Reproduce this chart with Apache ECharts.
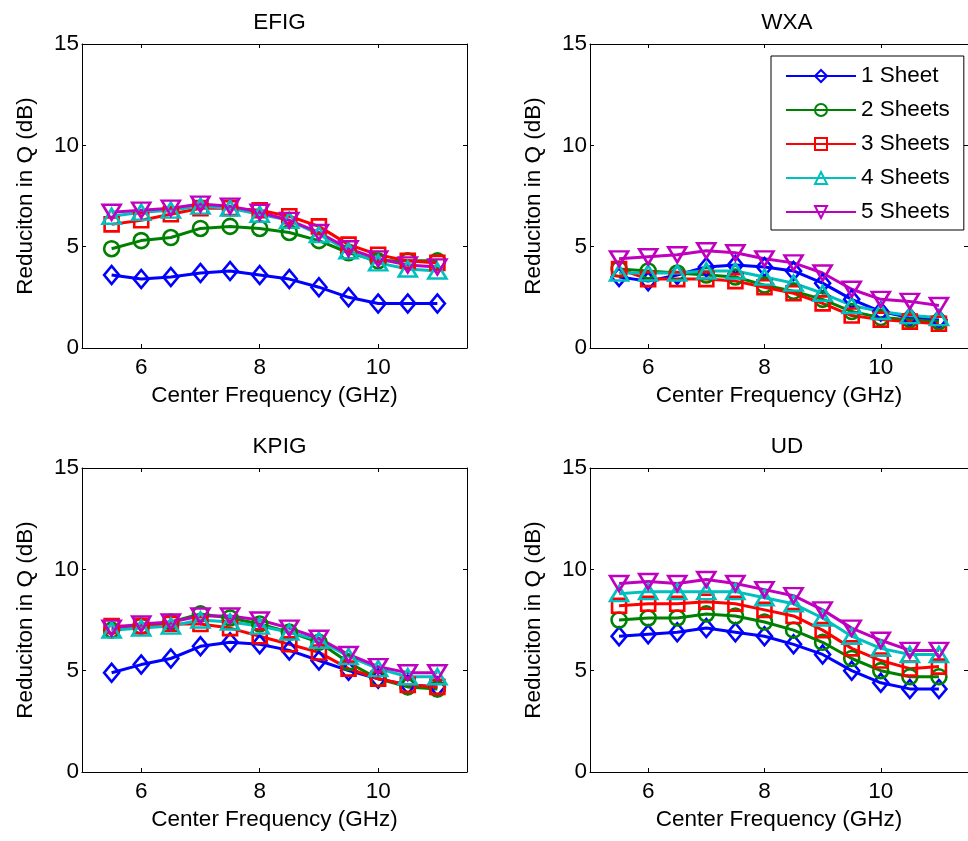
<!DOCTYPE html>
<html>
<head>
<meta charset="utf-8">
<title>Reduction in Q vs Center Frequency</title>
<script src="https://cdn.jsdelivr.net/npm/echarts@6/dist/echarts.min.js"></script>
<style>
  html, body { margin: 0; padding: 0; background: #fff; }
  #chart { width: 968px; height: 841px; }
</style>
</head>
<body>
<div id="chart"></div>
<script>
// Center frequencies (GHz) shared by every panel
const freq = [5.5, 6, 6.5, 7, 7.5, 8, 8.5, 9, 9.5, 10, 10.5, 11];
const xTicks = [6, 8, 10];
const sheetNames = ['1 Sheet', '2 Sheets', '3 Sheets', '4 Sheets', '5 Sheets'];
const panelTitles = ['EFIG', 'WXA', 'KPIG', 'UD'];

// Reduction in Q (dB), one row per sheet count
const efig = [
  [3.6, 3.4, 3.5, 3.7, 3.8, 3.6, 3.4, 3.0, 2.5, 2.2, 2.2, 2.2],
  [4.9, 5.3, 5.45, 5.9, 6.0, 5.9, 5.7, 5.3, 4.7, 4.3, 4.3, 4.3],
  [6.1, 6.3, 6.6, 6.9, 6.9, 6.8, 6.5, 6.0, 5.1, 4.6, 4.3, 4.2],
  [6.5, 6.7, 6.8, 7.0, 6.9, 6.6, 6.3, 5.6, 4.8, 4.2, 3.9, 3.8],
  [6.7, 6.8, 6.9, 7.1, 7.0, 6.7, 6.3, 5.7, 4.9, 4.4, 4.1, 4.0]
];
const wxa = [
  [3.5, 3.3, 3.6, 4.0, 4.1, 4.0, 3.8, 3.2, 2.4, 1.8, 1.5, 1.4],
  [3.9, 3.8, 3.7, 3.6, 3.5, 3.1, 2.8, 2.4, 1.8, 1.5, 1.4, 1.3],
  [3.9, 3.4, 3.4, 3.4, 3.3, 3.0, 2.7, 2.2, 1.6, 1.4, 1.3, 1.2],
  [3.7, 3.7, 3.7, 3.8, 3.8, 3.5, 3.2, 2.7, 2.1, 1.8, 1.6, 1.5],
  [4.4, 4.5, 4.6, 4.8, 4.7, 4.4, 4.2, 3.7, 2.9, 2.4, 2.3, 2.1]
];
const kpig = [
  [4.9, 5.3, 5.6, 6.2, 6.4, 6.3, 6.0, 5.5, 5.0, 4.6, 4.3, 4.2],
  [7.0, 7.2, 7.4, 7.8, 7.6, 7.3, 6.9, 6.4, 5.4, 4.6, 4.2, 4.1],
  [7.2, 7.2, 7.3, 7.3, 7.1, 6.7, 6.3, 5.9, 5.1, 4.6, 4.3, 4.2],
  [7.0, 7.1, 7.2, 7.5, 7.4, 7.2, 6.9, 6.5, 5.7, 5.1, 4.7, 4.7],
  [7.1, 7.3, 7.4, 7.7, 7.7, 7.5, 7.1, 6.6, 5.8, 5.2, 4.9, 4.9]
];
const ud = [
  [6.7, 6.8, 6.9, 7.1, 6.9, 6.7, 6.3, 5.8, 5.0, 4.4, 4.1, 4.1],
  [7.5, 7.6, 7.6, 7.8, 7.7, 7.4, 7.0, 6.4, 5.6, 5.0, 4.7, 4.7],
  [8.2, 8.3, 8.3, 8.4, 8.3, 8.0, 7.7, 7.0, 6.1, 5.5, 5.1, 5.2],
  [8.8, 8.9, 8.9, 8.9, 8.9, 8.6, 8.3, 7.6, 6.7, 6.1, 5.8, 5.8],
  [9.3, 9.4, 9.3, 9.5, 9.3, 9.0, 8.7, 8.0, 7.1, 6.5, 6.0, 6.0]
];
const panelData = [efig, wxa, kpig, ud];

// Line colours and marker shapes per sheet count
const colors = ['#0000ff', '#008000', '#ff0000', '#00bfbf', '#bf00bf'];
const markers = [
  { symbol: 'diamond', size: [15, 18], rotate: 0 },
  { symbol: 'circle', size: 15, rotate: 0 },
  { symbol: 'rect', size: 14, rotate: 0 },
  { symbol: 'triangle', size: [18, 15], rotate: 0 },
  { symbol: 'triangle', size: [18, 15], rotate: 180 }
];

const FONT = '"Liberation Sans", Arial, Helvetica, sans-serif';
const FS = 22.5;

// Panel boxes in pixels
const gridBoxes = [
  { left: 82, top: 44, width: 385, height: 304 },
  { left: 590, top: 44, width: 384, height: 304 },
  { left: 82, top: 468, width: 385, height: 304 },
  { left: 590, top: 468, width: 384, height: 304 }
];

const axisLine = { show: true, onZero: false, lineStyle: { color: '#000', width: 1 } };
const tickStyle = { show: true, inside: true, length: 4, lineStyle: { color: '#000', width: 1 } };
const textBase = { color: '#000', fontFamily: FONT, fontSize: FS };

const grids = [], xAxes = [], yAxes = [], titles = [], series = [];

gridBoxes.forEach((g, p) => {
  grids.push({ left: g.left, top: g.top, width: g.width, height: g.height, containLabel: false });
  titles.push({
    text: panelTitles[p],
    left: g.left + g.width / 2,
    top: g.top - 38,
    textAlign: 'center',
    textStyle: Object.assign({ fontWeight: 'normal' }, textBase)
  });
  // bottom axis with labels, top axis for the box ticks
  xAxes.push({
    type: 'value', gridIndex: p, position: 'bottom', min: 5, max: 11.5,
    axisLine, axisTick: Object.assign({ customValues: xTicks }, tickStyle),
    axisLabel: Object.assign({ customValues: xTicks, margin: 8 }, textBase),
    splitLine: { show: false },
    name: 'Center Frequency (GHz)', nameLocation: 'middle', nameGap: 36,
    nameTextStyle: textBase
  });
  xAxes.push({
    type: 'value', gridIndex: p, position: 'top', min: 5, max: 11.5,
    axisLine, axisTick: Object.assign({ customValues: xTicks }, tickStyle),
    axisLabel: { show: false }, splitLine: { show: false }
  });
  yAxes.push({
    type: 'value', gridIndex: p, position: 'left', min: 0, max: 15, interval: 5,
    axisLine, axisTick: tickStyle,
    axisLabel: Object.assign({ margin: 3 }, textBase),
    splitLine: { show: false },
    name: 'Reduciton in Q (dB)', nameLocation: 'middle', nameGap: 45,
    nameTextStyle: textBase
  });
  yAxes.push({
    type: 'value', gridIndex: p, position: 'right', min: 0, max: 15, interval: 5,
    axisLine, axisTick: tickStyle, axisLabel: { show: false }, splitLine: { show: false }
  });

  panelData[p].forEach((vals, s) => {
    series.push({
      type: 'line',
      name: sheetNames[s],
      xAxisIndex: p * 2,
      yAxisIndex: p * 2,
      data: freq.map((f, i) => [f, vals[i]]),
      symbol: markers[s].symbol,
      symbolSize: markers[s].size,
      symbolRotate: markers[s].rotate,
      showAllSymbol: true,
      color: colors[s],
      lineStyle: { color: colors[s], width: 3 },
      itemStyle: { color: 'rgba(255,255,255,0)', borderColor: colors[s], borderWidth: 2.6 },
      emphasis: { disabled: true },
      animation: false
    });
  });
});

const chart = echarts.init(document.getElementById('chart'), null, { renderer: 'canvas' });
chart.setOption({
  backgroundColor: '#fff',
  animation: false,
  title: titles,
  grid: grids,
  xAxis: xAxes,
  yAxis: yAxes,
  legend: {
    data: sheetNames,
    orient: 'vertical',
    left: 771,
    top: 56,
    padding: [8, 14, 6, 14],
    itemWidth: 70,
    itemHeight: 15,
    itemGap: 10,
    backgroundColor: '#fff',
    borderColor: '#000',
    borderWidth: 1,
    borderRadius: 0,
    textStyle: Object.assign({ lineHeight: 24 }, textBase),
    selectedMode: false
  },
  series
});
</script>
</body>
</html>
